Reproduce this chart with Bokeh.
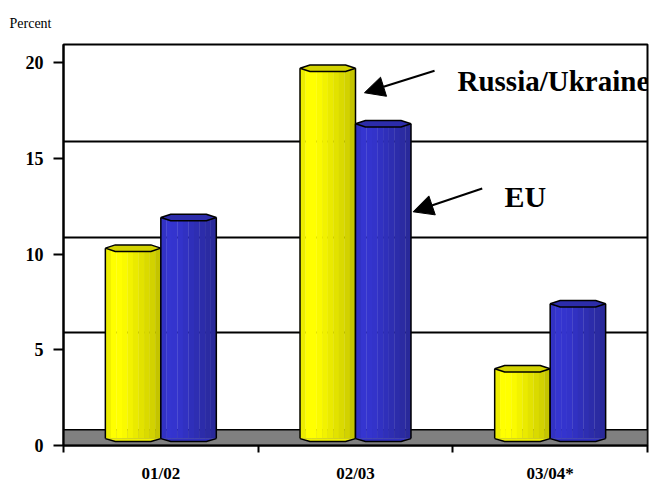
import numpy as np
from bokeh.plotting import figure
from bokeh.models import Range1d, FixedTicker, Label, Arrow, NormalHead
from bokeh.embed import file_html
from bokeh.resources import INLINE

# ---- data ----
periods = ["01/02", "02/03", "03/04*"]
russia_ukraine = [10.1, 19.5, 3.8]
eu = [11.7, 16.6, 7.2]
y_ticks = [0, 5, 10, 15, 20]

SERIF = "Liberation Serif"
BASE_MID = 0.21    # lowest point of the cylinder base
BASE_SIDE = 0.36   # base at cylinder sides
CAP = 0.17         # half-height of top cap
DEPTH = 0.88       # back-wall offset of gridlines
FLOOR = 0.82       # floor height
W = 0.285          # bar width (category units)
NS = 10            # shading stripes

p = figure(width=652, height=485, x_range=Range1d(0, 3), y_range=Range1d(0, 20.95),
           output_backend="svg", toolbar_location=None, title="Percent",
           min_border_left=63, min_border_right=5, min_border_top=43, min_border_bottom=35)
p.background_fill_color = "white"
p.border_fill_color = "white"
p.outline_line_color = "black"
p.outline_line_width = 2
p.xgrid.visible = False
p.ygrid.visible = False

p.title.align = "left"
p.title.offset = -54
p.title.standoff = 27
p.title.text_font = SERIF
p.title.text_font_style = "normal"
p.title.text_font_size = "14px"
p.title.text_color = "black"

# floor
p.quad(left=[0], right=[3], bottom=[0], top=[FLOOR], fill_color="#808080",
       line_color="black", line_width=1.5)
# back-wall gridlines
p.hspan(y=[t + DEPTH for t in y_ticks[1:-1]], line_color="black", line_width=2)

yellow_cols = ["#EDED00", "#FFFF00", "#FFFF00", "#FAFA00", "#F2F200",
               "#EAEA00", "#E2E200", "#DADA00", "#D2D200", "#C4C400"]
blue_cols = ["#3232C4", "#3535D0", "#3434CE", "#3333CA", "#3131C2",
             "#2F2FBA", "#2E2EB2", "#2C2CAA", "#2B2BA2", "#29299A"]

n = len(periods)
centers = np.arange(n) + 0.5


def draw_cyl(left, vals, cols, cap_col, base_col):
    vals = np.asarray(vals, dtype=float)
    tops = BASE_MID + vals
    sw = W / NS
    for k, c in enumerate(cols):
        p.vbar(x=left + (k + 0.5) * sw, width=sw * 1.05, bottom=BASE_SIDE, top=tops,
               fill_color=c, line_color=None)
    xs_b = [[l, l + 0.18 * W, l + 0.82 * W, l + W] for l in left]
    ys_b = [[BASE_SIDE, BASE_MID, BASE_MID, BASE_SIDE] for _ in left]
    p.patches(xs_b, ys_b, fill_color=base_col, line_color=None)
    p.multi_line(xs_b, ys_b, line_color="black", line_width=1.5)
    p.segment(x0=left, y0=[BASE_SIDE] * n, x1=left, y1=tops, line_color="black", line_width=1.5)
    p.segment(x0=left + W, y0=[BASE_SIDE] * n, x1=left + W, y1=tops, line_color="black", line_width=1.5)
    xs_c = [[l, l + 0.18 * W, l + 0.82 * W, l + W, l + 0.82 * W, l + 0.18 * W] for l in left]
    ys_c = [[t, t + CAP, t + CAP, t, t - CAP, t - CAP] for t in tops]
    p.patches(xs_c, ys_c, fill_color=cap_col, line_color="black", line_width=1.5)


draw_cyl(centers - W, russia_ukraine, yellow_cols, "#D2D200", "#F0F000")
draw_cyl(centers, eu, blue_cols, "#2C2CAA", "#3030C0")

# y axis
p.yaxis.ticker = FixedTicker(ticks=y_ticks)
p.yaxis.minor_tick_line_color = None
p.yaxis.major_tick_in = 0
p.yaxis.major_tick_out = 10
p.yaxis.major_tick_line_width = 2
p.yaxis.major_tick_line_color = "black"
p.yaxis.axis_line_width = 2
p.yaxis.axis_line_color = "black"
p.yaxis.major_label_standoff = 10
p.yaxis.major_label_text_font = SERIF
p.yaxis.major_label_text_font_style = "bold"
p.yaxis.major_label_text_font_size = "18px"
p.yaxis.major_label_text_color = "black"

# x axis: labels at category centres, tick marks at category boundaries
p.xaxis.ticker = FixedTicker(ticks=[float(c) for c in centers],
                             minor_ticks=[float(i) for i in range(n + 1)])
p.xaxis.major_label_overrides = {float(c): name for c, name in zip(centers, periods)}
p.xaxis.major_tick_in = 0
p.xaxis.major_tick_out = 0
p.xaxis.major_tick_line_color = None
p.xaxis.minor_tick_in = 0
p.xaxis.minor_tick_out = 7
p.xaxis.minor_tick_line_width = 2
p.xaxis.minor_tick_line_color = "black"
p.xaxis.axis_line_width = 2
p.xaxis.axis_line_color = "black"
p.xaxis.major_label_standoff = 11
p.xaxis.major_label_text_font = SERIF
p.xaxis.major_label_text_font_style = "bold"
p.xaxis.major_label_text_font_size = "17px"
p.xaxis.major_label_text_color = "black"

p.add_layout(Label(x=2.024, y=19.05, text="Russia/Ukraine", text_font=SERIF,
                   text_font_style="bold", text_font_size="29px", text_baseline="alphabetic",
                   text_color="black"))
p.add_layout(Label(x=2.265, y=13.0, text="EU", text_font=SERIF,
                   text_font_style="bold", text_font_size="30px", text_baseline="alphabetic",
                   text_color="black"))

p.add_layout(Arrow(end=NormalHead(size=20, fill_color="black", line_color="black"),
                   x_start=1.906, y_start=19.58, x_end=1.546, y_end=18.43,
                   line_color="black", line_width=2))
p.add_layout(Arrow(end=NormalHead(size=20, fill_color="black", line_color="black"),
                   x_start=2.151, y_start=13.43, x_end=1.796, y_end=12.21,
                   line_color="black", line_width=2))

open("out.html", "w").write(file_html(p, INLINE))
